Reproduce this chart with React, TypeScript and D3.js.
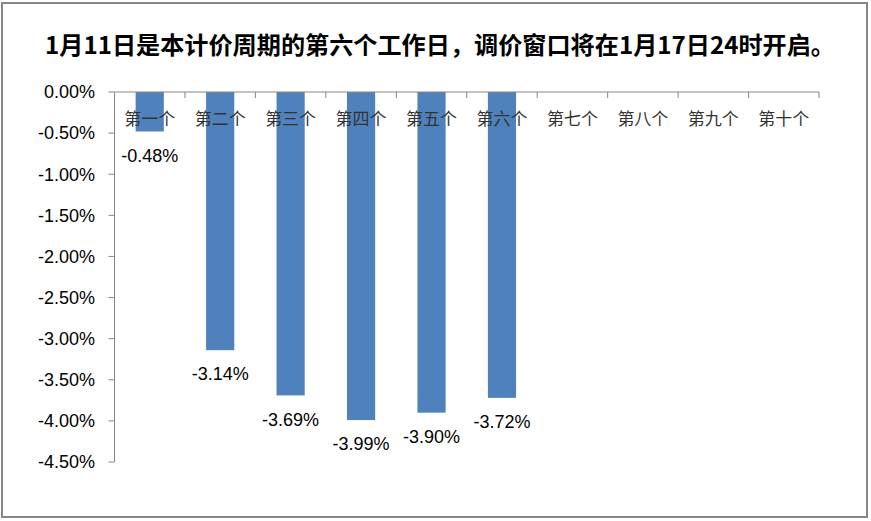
import React from "react";
import * as d3 from "d3";

const title = "1月11日是本计价周期的第六个工作日，调价窗口将在1月17日24时开启。";
const categories = ["第一个", "第二个", "第三个", "第四个", "第五个", "第六个", "第七个", "第八个", "第九个", "第十个"];
const values: (number | null)[] = [-0.48, -3.14, -3.69, -3.99, -3.9, -3.72, null, null, null, null];
const yTicks = [0, -0.5, -1, -1.5, -2, -2.5, -3, -3.5, -4, -4.5];

const fmt = (v: number) => d3.format(".2f")(v).replace("\u2212", "-") + "%";

export default function App() {
  const W = 871, H = 521;
  const left = 114.5, right = 819, top = 92, bottom = 462;
  const x = d3.scaleBand<string>().domain(categories).range([left, right]).paddingInner(0.6).paddingOuter(0.3);
  const xb = d3.scaleBand<string>().domain(categories).range([left, right]);
  const y = d3.scaleLinear().domain([0, -4.5]).range([top, bottom]);
  const axisColor = "#868686";
  const numFont = "'Liberation Sans', Arial, sans-serif";
  return (
    <svg width={W} height={H} style={{ position: "absolute", left: 0, top: 0, background: "#fff" }}>
      <rect x={2} y={3} width={865} height={514} fill="#fff" stroke="#878787" strokeWidth={2} />
      <text x={440} y={54} textAnchor="middle" fontFamily="'Noto Sans CJK SC', sans-serif" fontWeight="bold" fontSize={24} textLength={790} lengthAdjust="spacingAndGlyphs" fill="#000">{title}</text>
      {/* bars */}
      {categories.map((c, i) => {
        const v = values[i];
        if (v == null) return null;
        return <rect key={c} x={x(c)} y={y(0)} width={x.bandwidth()} height={y(v) - y(0)} fill="#4F81BD" />;
      })}
      {/* y axis */}
      <line x1={left} x2={left} y1={top} y2={bottom} stroke={axisColor} strokeWidth={1} />
      {yTicks.map((t) => (
        <g key={t}>
          <line x1={left - 6} x2={left} y1={y(t)} y2={y(t)} stroke={axisColor} />
          <text x={95} y={y(t)} dy="0.35em" textAnchor="end" fontFamily={numFont} fontSize={18} fill="#000">{fmt(t)}</text>
        </g>
      ))}
      {/* x axis at zero */}
      <line x1={left} x2={right} y1={y(0)} y2={y(0)} stroke={axisColor} />
      {categories.map((c) => (
        <line key={c} x1={(xb(c) as number) + xb.bandwidth()} x2={(xb(c) as number) + xb.bandwidth()} y1={y(0)} y2={y(0) + 6} stroke={axisColor} />
      ))}
      {categories.map((c) => (
        <text key={c} x={(xb(c) as number) + xb.bandwidth() / 2} y={125} textAnchor="middle" fontFamily="'Noto Sans CJK SC', sans-serif" fontSize={17} fill="#333">{c}</text>
      ))}
      {/* data labels */}
      {categories.map((c, i) => {
        const v = values[i];
        if (v == null) return null;
        return <text key={c} x={(x(c) as number) + x.bandwidth() / 2} y={y(v) + 24} dy="0.35em" textAnchor="middle" fontFamily={numFont} fontSize={18} fill="#000">{fmt(v)}</text>;
      })}
    </svg>
  );
}
